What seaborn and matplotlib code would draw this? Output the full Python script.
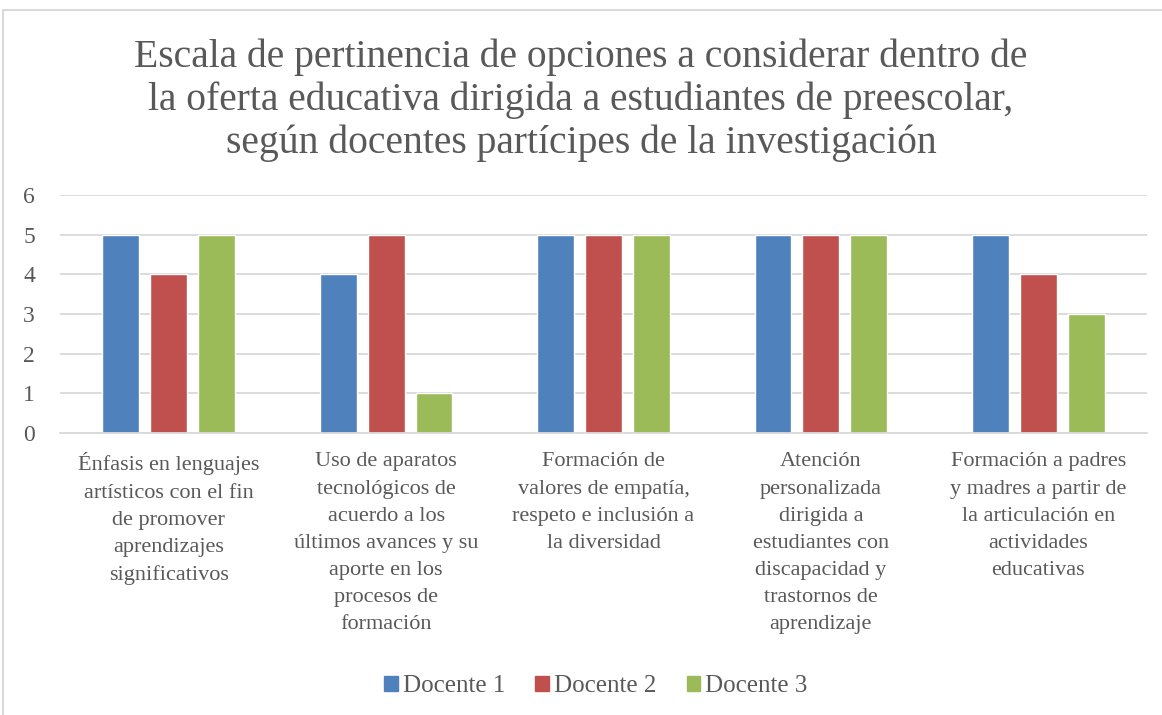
import numpy as np
import pandas as pd
import matplotlib
matplotlib.use("Agg")
import matplotlib.pyplot as plt
import seaborn as sns
from matplotlib.lines import Line2D

# datos
categorias = [
    "Énfasis en lenguajes\nartísticos con el fin\nde promover\naprendizajes\nsignificativos",
    "Uso de aparatos\ntecnológicos de\nacuerdo a los\núltimos avances y su\naporte en los\nprocesos de\nformación",
    "Formación de\nvalores de empatía,\nrespeto e inclusión a\nla diversidad",
    "Atención\npersonalizada\ndirigida a\nestudiantes con\ndiscapacidad y\ntrastornos de\naprendizaje",
    "Formación a padres\ny madres a partir de\nla articulación en\nactividades\neducativas",
]
docente1 = [5, 4, 5, 5, 5]
docente2 = [4, 5, 5, 5, 4]
docente3 = [5, 1, 5, 5, 3]
series = ["Docente 1", "Docente 2", "Docente 3"]
colores = ["#4F81BD", "#C0504D", "#9BBB59"]

titulo = ("Escala de pertinencia de opciones a considerar dentro de\n"
          "la oferta educativa dirigida a estudiantes de preescolar,\n"
          "según docentes partícipes de la investigación")

df = pd.DataFrame({
    "categoria": categorias * 3,
    "docente": np.repeat(series, len(categorias)),
    "valor": docente1 + docente2 + docente3,
})

sns.set_theme(style="white")
plt.rcParams["font.family"] = ["Liberation Serif", "DejaVu Serif"]
gris = "#595959"

fig = plt.figure(figsize=(11.62, 7.15), dpi=100)
ax = fig.add_axes([60 / 1162, 1 - 433 / 715, 1087 / 1162, 238 / 715])

sns.barplot(data=df, x="categoria", y="valor", hue="docente",
            palette=colores, width=0.66, gap=0.23, ax=ax,
            saturation=1, legend=False)

ax.set_ylim(0, 6)
ax.set_yticks(range(0, 7))
ax.yaxis.grid(True, color="#D9D9D9", linewidth=1.3)
ax.set_axisbelow(True)
for s in ["top", "right", "left"]:
    ax.spines[s].set_visible(False)
ax.spines["bottom"].set_color("#D9D9D9")
ax.spines["bottom"].set_linewidth(1.3)
ax.tick_params(axis="both", length=0, labelsize=16, colors=gris)
ax.tick_params(axis="y", labelsize=17, pad=18)
ax.tick_params(axis="x", pad=14)
for lbl in ax.get_xticklabels():
    lbl.set_linespacing(1.58)
    lbl.set_verticalalignment("top")
ax.set_xlabel("")
ax.set_ylabel("")

fig.text(0.5, 1 - 39 / 715, titulo, ha="center", va="top",
         fontsize=28.5, color=gris, linespacing=1.18)

handles = [plt.Rectangle((0, 0), 1, 1, color=c) for c in colores]
fig.legend(handles, series, loc="center",
           bbox_to_anchor=(596 / 1162, 1 - 686 / 715),
           ncol=3, frameon=False, fontsize=18, labelcolor=gris,
           handlelength=0.55, handleheight=0.55, handletextpad=0.2,
           columnspacing=1.2)

# marco del grafico
fig.add_artist(Line2D([3 / 1162, 1], [1 - 10 / 715, 1 - 10 / 715],
                      color="#D9D9D9", linewidth=1.5))
fig.add_artist(Line2D([3 / 1162, 3 / 1162], [0, 1 - 10 / 715],
                      color="#D9D9D9", linewidth=1.5))

fig.savefig("out.png", dpi=100)
